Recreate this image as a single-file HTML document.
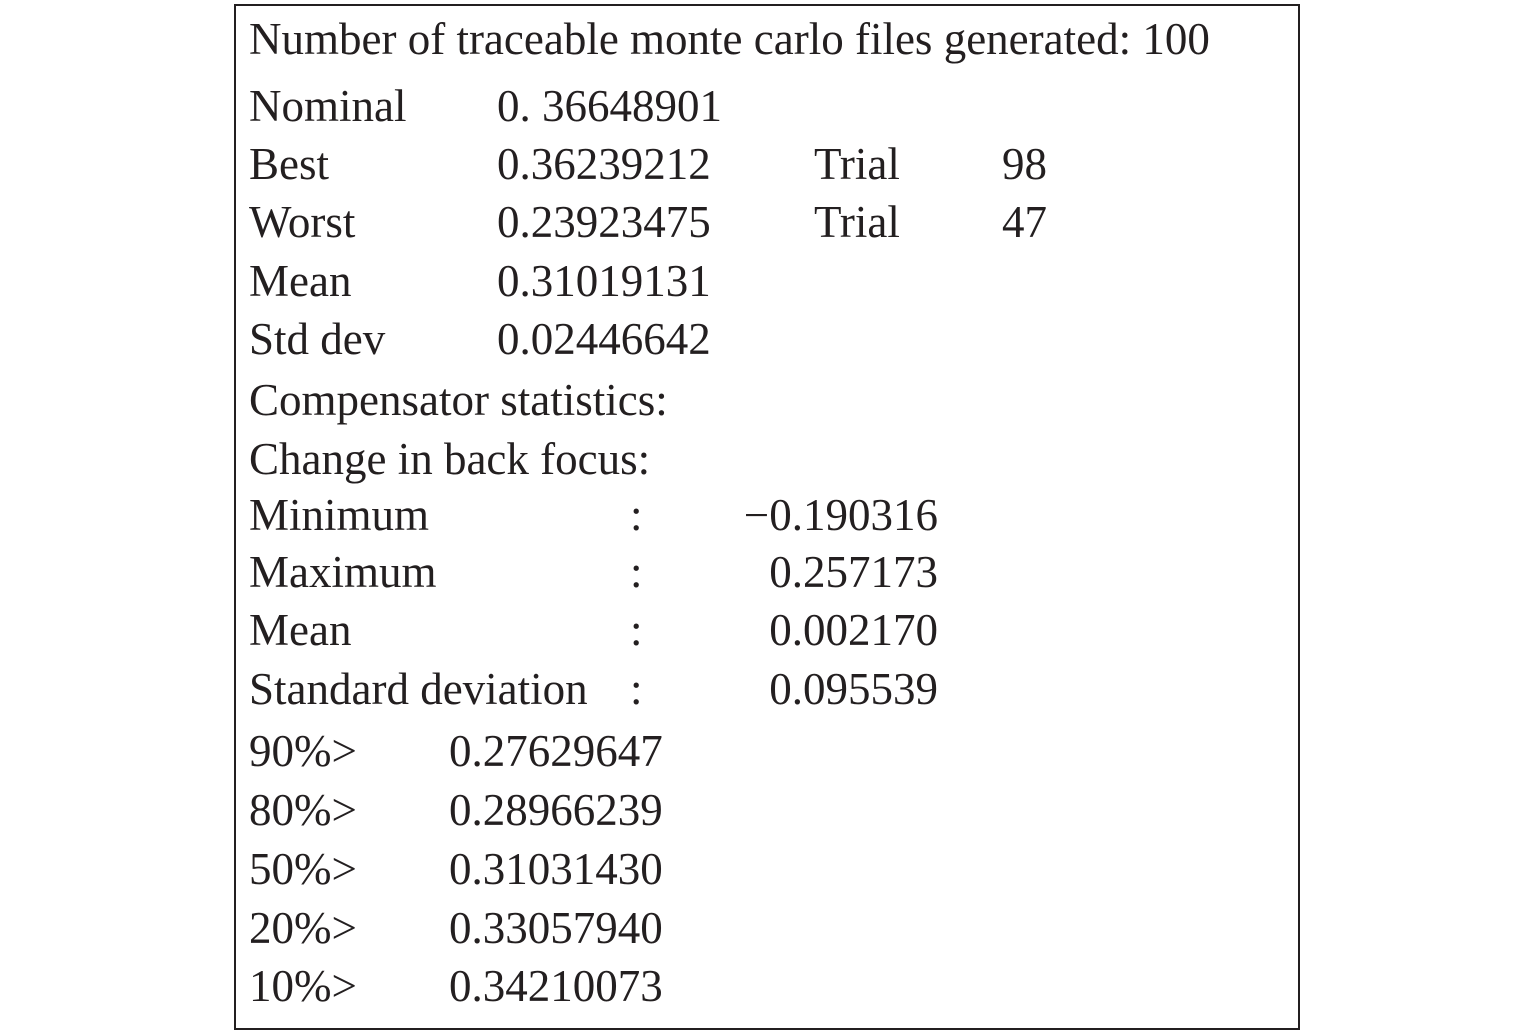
<!DOCTYPE html>
<html><head><meta charset="utf-8"><style>
html,body{margin:0;padding:0;background:#fff;}
body{width:1535px;height:1033px;position:relative;overflow:hidden;font-family:"Liberation Serif",serif;color:#231f20;}
#box{position:absolute;left:234px;top:4px;width:1062px;height:1022px;border:2.5px solid #231f20;}
.t{position:absolute;font-size:45px;line-height:45px;white-space:pre;}
.r{text-align:right;}
</style></head><body>
<div id="box"></div>
<div class="t" style="left:249px;top:17px">Number of traceable monte carlo files generated: 100</div>

<div class="t" style="left:249px;top:84px">Nominal</div>
<div class="t" style="left:497px;top:84px">0. 36648901</div>

<div class="t" style="left:249px;top:142px">Best</div>
<div class="t" style="left:497px;top:142px">0.36239212</div>
<div class="t" style="left:814px;top:142px">Trial</div>
<div class="t" style="left:1002px;top:142px">98</div>

<div class="t" style="left:249px;top:200px">Worst</div>
<div class="t" style="left:497px;top:200px">0.23923475</div>
<div class="t" style="left:814px;top:200px">Trial</div>
<div class="t" style="left:1002px;top:200px">47</div>

<div class="t" style="left:249px;top:259px">Mean</div>
<div class="t" style="left:497px;top:259px">0.31019131</div>

<div class="t" style="left:249px;top:317px">Std dev</div>
<div class="t" style="left:497px;top:317px">0.02446642</div>

<div class="t" style="left:249px;top:378px">Compensator statistics:</div>
<div class="t" style="left:249px;top:437px">Change in back focus:</div>

<div class="t" style="left:249px;top:493px">Minimum</div>
<div class="t" style="left:630px;top:493px">:</div>
<div class="t r" style="left:700px;width:238px;top:493px">−0.190316</div>

<div class="t" style="left:249px;top:550px">Maximum</div>
<div class="t" style="left:630px;top:550px">:</div>
<div class="t r" style="left:700px;width:238px;top:550px">0.257173</div>

<div class="t" style="left:249px;top:608px">Mean</div>
<div class="t" style="left:630px;top:608px">:</div>
<div class="t r" style="left:700px;width:238px;top:608px">0.002170</div>

<div class="t" style="left:249px;top:667px">Standard deviation</div>
<div class="t" style="left:630px;top:667px">:</div>
<div class="t r" style="left:700px;width:238px;top:667px">0.095539</div>

<div class="t" style="left:249px;top:729px">90%&gt;</div>
<div class="t" style="left:449px;top:729px">0.27629647</div>
<div class="t" style="left:249px;top:788px">80%&gt;</div>
<div class="t" style="left:449px;top:788px">0.28966239</div>
<div class="t" style="left:249px;top:847px">50%&gt;</div>
<div class="t" style="left:449px;top:847px">0.31031430</div>
<div class="t" style="left:249px;top:906px">20%&gt;</div>
<div class="t" style="left:449px;top:906px">0.33057940</div>
<div class="t" style="left:249px;top:964px">10%&gt;</div>
<div class="t" style="left:449px;top:964px">0.34210073</div>
</body></html>
